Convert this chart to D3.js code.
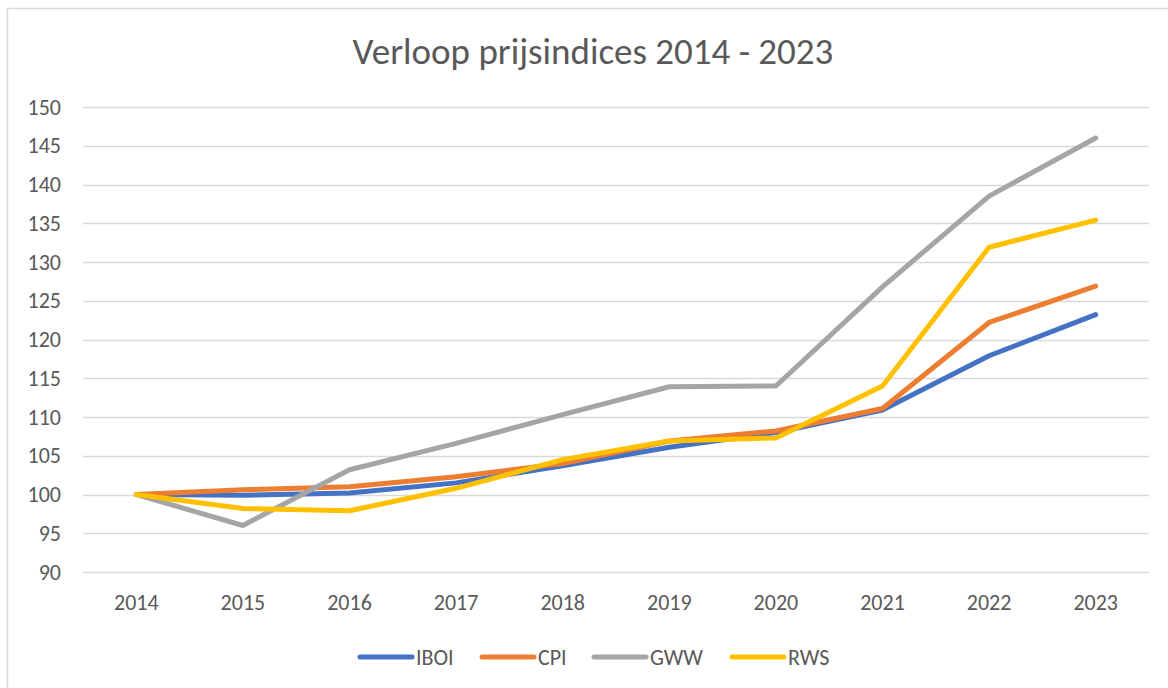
<!DOCTYPE html>
<html>
<head>
<meta charset="utf-8">
<script src="https://cdn.jsdelivr.net/npm/d3@7"></script>
<style>
  body { margin: 0; background: #fff; }
  svg { display: block; font-family: Carlito, "Liberation Sans", "DejaVu Sans", sans-serif; }
</style>
</head>
<body>
<div id="chartContainer"></div>
<script>
// years on the x axis
var years = ["2014", "2015", "2016", "2017", "2018", "2019", "2020", "2021", "2022", "2023"];
var yTicks = [90, 95, 100, 105, 110, 115, 120, 125, 130, 135, 140, 145, 150];

// series values
var iboi = [100, 99.9, 100.2, 101.5, 103.7, 106.1, 108.0, 110.9, 117.9, 123.2];
var cpi  = [100, 100.6, 101.0, 102.3, 104.0, 106.9, 108.2, 111.1, 122.2, 126.9];
var gww  = [100, 96.0, 103.2, 106.6, 110.3, 113.9, 114.0, 126.8, 138.5, 146.0];
var rws  = [100, 98.2, 97.9, 100.8, 104.5, 106.9, 107.3, 114.0, 131.9, 135.4];

var seriesNames = ["IBOI", "CPI", "GWW", "RWS"];
var seriesColors = ["#4472C4", "#ED7D31", "#A5A5A5", "#FFC000"];

var series = [iboi, cpi, gww, rws].map(function(vals, i) {
    return { name: seriesNames[i], color: seriesColors[i], values: vals };
});

const width = 1168;
const height = 688;

const svg = d3.select("#chartContainer").append("svg")
    .attr("width", width)
    .attr("height", height);

// chart frame
svg.append("rect")
    .attr("x", 7.5)
    .attr("y", 8.5)
    .attr("width", 1200)
    .attr("height", 700)
    .style("fill", "white")
    .style("stroke", "#d9d9d9")
    .style("stroke-width", "1.5px");

// title
svg.append("text")
    .attr("x", 593)
    .attr("y", 64)
    .attr("text-anchor", "middle")
    .style("font-size", "37px")
    .style("font-weight", "300")
    .style("fill", "#595959")
    .text("Verloop prijsindices 2014 - 2023");

// scales
const x = d3.scaleBand()
    .domain(years)
    .range([83, 1149]);

const y = d3.scaleLinear()
    .domain([90, 150])
    .range([572, 107]);

// gridlines
svg.append("g")
    .selectAll("line")
    .data(yTicks)
    .enter()
    .append("line")
    .attr("x1", 83)
    .attr("x2", 1149)
    .attr("y1", function(d) { return Math.round(y(d)) + 0.5; })
    .attr("y2", function(d) { return Math.round(y(d)) + 0.5; })
    .style("stroke", "#d9d9d9")
    .style("stroke-width", "1.5px");

// y axis labels
var yAxis = svg.append("g")
    .attr("transform", "translate(61,0)")
    .call(d3.axisLeft(y).tickValues(yTicks).tickSize(0).tickPadding(0));
yAxis.select(".domain").remove();
yAxis.selectAll("text")
    .style("font-family", "Carlito, 'Liberation Sans', sans-serif")
    .style("font-size", "22px")
    .style("fill", "#595959");

// x axis labels
var xAxis = svg.append("g")
    .attr("transform", "translate(0,594)")
    .call(d3.axisBottom(x).tickSize(0).tickPadding(0));
xAxis.select(".domain").remove();
xAxis.selectAll("text")
    .style("font-family", "Carlito, 'Liberation Sans', sans-serif")
    .style("font-size", "22px")
    .style("fill", "#595959");

// lines
var line = d3.line()
    .x(function(d, i) { return x(years[i]) + x.bandwidth() / 2; })
    .y(function(d) { return y(d); });

svg.append("g")
    .selectAll("path")
    .data(series)
    .enter()
    .append("path")
    .attr("d", function(s) { return line(s.values); })
    .style("fill", "none")
    .style("stroke", function(s) { return s.color; })
    .style("stroke-width", "5px")
    .style("stroke-linejoin", "round")
    .style("stroke-linecap", "round");

// legend
var legendX = [360, 482, 594, 732];
var legend = svg.append("g")
    .selectAll("g")
    .data(series)
    .enter()
    .append("g")
    .attr("transform", function(s, i) { return "translate(" + legendX[i] + ",657)"; });

legend.append("line")
    .attr("x1", 0)
    .attr("x2", 52)
    .style("stroke", function(s) { return s.color; })
    .style("stroke-width", "5px")
    .style("stroke-linecap", "round");

legend.append("text")
    .attr("x", 56)
    .attr("y", 8)
    .style("font-size", "22px")
    .style("fill", "#595959")
    .text(function(s) { return s.name; });
</script>
</body>
</html>
